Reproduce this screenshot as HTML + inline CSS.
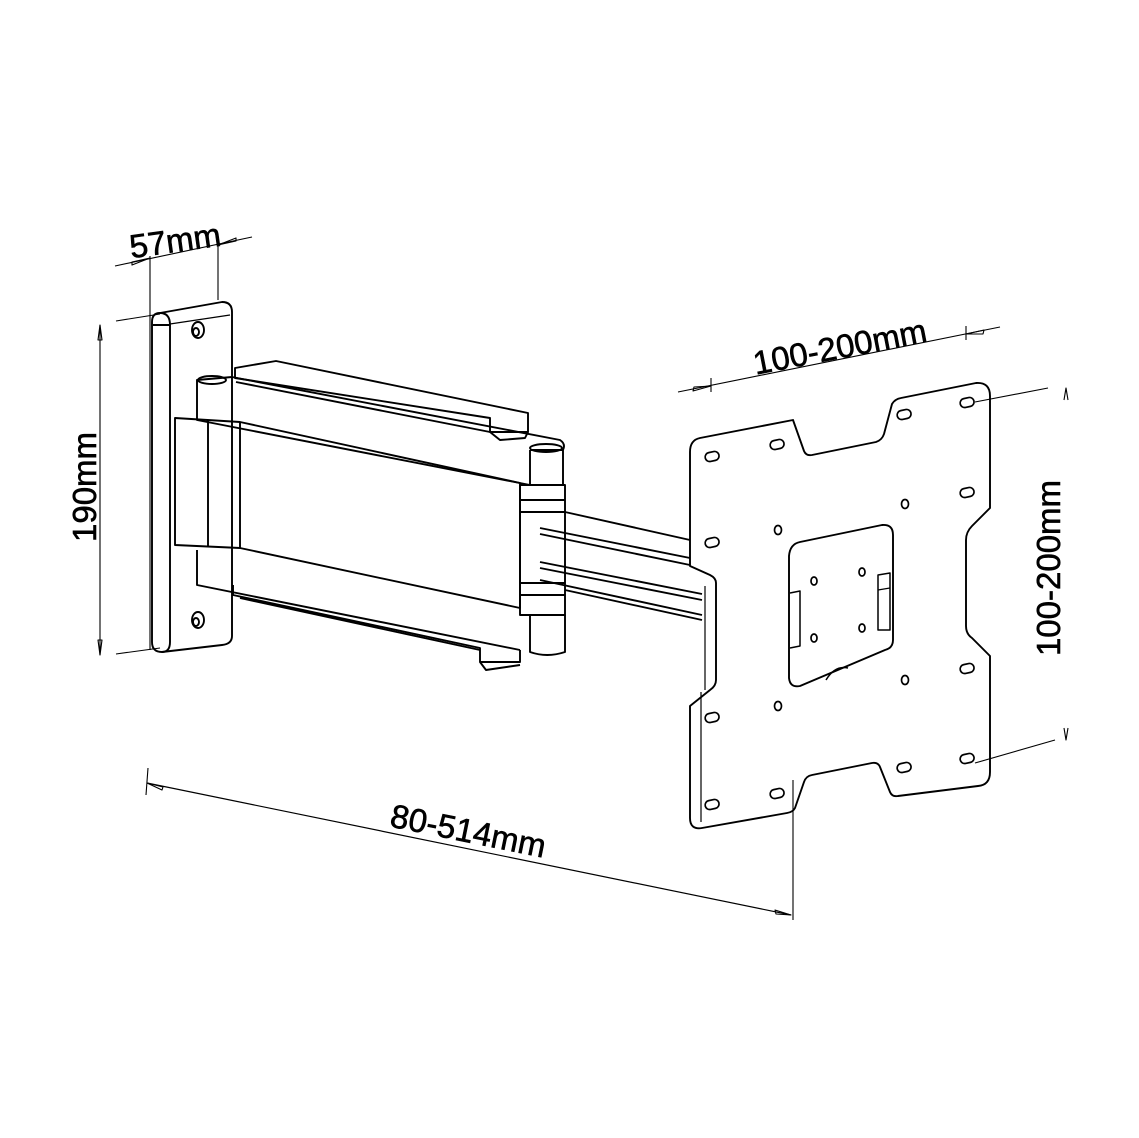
<!DOCTYPE html>
<html><head><meta charset="utf-8"><style>
html,body{margin:0;padding:0;background:#fff;}
svg{display:block;}
text{font-family:"Liberation Sans",sans-serif;fill:#000;stroke:#000;stroke-width:0.6;}
</style></head><body>
<svg width="1139" height="1138" viewBox="0 0 1139 1138" xmlns="http://www.w3.org/2000/svg">
<g fill="none" stroke="#000" stroke-width="1.9" stroke-linejoin="round">
<!-- 57mm dimension -->
<line x1="115" y1="266" x2="252" y2="237" stroke-width="1.1"/>
<line x1="150" y1="256" x2="150" y2="650" stroke-width="1.1"/>
<line x1="218" y1="243" x2="218" y2="300" stroke-width="1.1"/>
<path d="M132 262 L150 258 L132 265Z" stroke-width="1.1"/>
<path d="M236 241 L218 245 L236 238Z" stroke-width="1.1"/>
<!-- 190mm -->
<line x1="100" y1="325" x2="100" y2="655" stroke-width="1.1"/>
<line x1="116" y1="321" x2="160" y2="314" stroke-width="1.1"/>
<line x1="116" y1="654" x2="160" y2="648" stroke-width="1.1"/>
<path d="M98 340 L100 325 L102 340Z" stroke-width="1.1"/>
<path d="M98 640 L100 655 L102 640Z" stroke-width="1.1"/>
<!-- wall plate -->
<path d="M160 313 L222 302 Q232 302 232 312 L232 636 Q232 644 222 645 L162 652 Q152 652 152 642 L152 322 Q152 313 160 313Z"/>
<path d="M160 313 Q170 313 170 325 L170 642 Q170 652 162 652"/>
<path d="M153 325 L170 325"/>
<path d="M170 324 L230 315" stroke-width="1.2"/>
<ellipse cx="198" cy="330" rx="6" ry="8"/><ellipse cx="196" cy="332" rx="3" ry="4"/>
<ellipse cx="198" cy="620" rx="6" ry="8"/><ellipse cx="196" cy="622" rx="3" ry="4"/>
<!-- upper rail -->
<path d="M235 368 L276 361 L528 413 L528 432 L490 432 L490 418 L235 378Z"/>
<path d="M236 382 L490 432"/>
<path d="M490 432 L500 440 L525 438 L528 432"/>
<!-- upper arm block -->
<path d="M197 380 L232 377 L560 440 Q566 444 563 450 L563 485 L530 485 L197 420Z"/>
<path d="M530 450 L530 485"/><path d="M530 450 L563 450"/>
<ellipse cx="546" cy="448" rx="16" ry="4"/>
<ellipse cx="212" cy="380" rx="14" ry="4"/>
<!-- main arm panel -->
<path d="M175 418 L240 422 L520 483 L520 608 L240 548 L175 545Z"/>
<path d="M208 420 L208 547"/>
<path d="M240 422 L240 548"/>
<!-- lower arm -->
<path d="M197 550 L197 585 L520 650"/>
<path d="M233 585 L233 595 L480 648 L480 662 L520 662 L520 650"/>
<path d="M240 598 L480 650"/>
<path d="M480 662 L486 670 L520 665"/>
<!-- right hinge -->
<path d="M520 485 L565 485 L565 615 L520 615Z"/>
<path d="M520 500 L565 500"/><path d="M520 512 L565 512"/>
<path d="M520 583 L565 583"/><path d="M520 595 L565 595"/>
<path d="M530 615 L530 652 Q547 658 565 652 L565 615"/>
<!-- second arm -->
<path d="M565 512 L690 540"/><path d="M540 528 L690 558"/>
<path d="M540 534 L690 565"/>
<path d="M540 562 L702 594"/><path d="M540 568 L702 600"/>
<path d="M540 580 L702 615"/><path d="M565 590 L702 620"/>
<!-- VESA plate -->
<path d="M700 438 L793 420 L804 451 Q806 456 812 455 L876 442 Q882 440 884 434 L892 404 Q895 399 901 398 L976 383 Q990 382 990 396 L990 508 L972 526 Q966 532 966 540 L966 626 Q966 634 972 638 L990 656 L990 772 Q990 785 978 786 L898 796 Q892 797 890 792 L880 767 Q878 762 872 763 L812 775 Q806 776 804 782 L795 808 Q793 812 787 813 L702 828 Q690 830 690 818 L690 706 L710 690 Q716 686 716 680 L716 583 Q716 578 710 575 L690 566 L690 452 Q690 440 700 438Z"/>
<path d="M701 692 L701 822" stroke-width="1.2"/>
<path d="M705 586 L705 690" stroke-width="1.2"/>
<!-- slots -->
<g stroke-width="1.7">
<rect x="705" y="452" width="14" height="9" rx="4.5" transform="rotate(-12 712 456)"/>
<rect x="770" y="440" width="14" height="9" rx="4.5" transform="rotate(-12 777 444)"/>
<rect x="897" y="410" width="14" height="9" rx="4.5" transform="rotate(-12 904 414)"/>
<rect x="960" y="398" width="14" height="9" rx="4.5" transform="rotate(-12 967 402)"/>
<rect x="705" y="538" width="14" height="9" rx="4.5" transform="rotate(-12 712 542)"/>
<rect x="960" y="488" width="14" height="9" rx="4.5" transform="rotate(-12 967 492)"/>
<rect x="705" y="713" width="14" height="9" rx="4.5" transform="rotate(-12 712 717)"/>
<rect x="960" y="664" width="14" height="9" rx="4.5" transform="rotate(-12 967 668)"/>
<rect x="705" y="800" width="14" height="9" rx="4.5" transform="rotate(-12 712 804)"/>
<rect x="770" y="789" width="14" height="9" rx="4.5" transform="rotate(-12 777 793)"/>
<rect x="897" y="763" width="14" height="9" rx="4.5" transform="rotate(-12 904 767)"/>
<rect x="960" y="754" width="14" height="9" rx="4.5" transform="rotate(-12 967 758)"/>
</g>
<g stroke-width="1.7">
<ellipse cx="778" cy="530" rx="3.5" ry="4.5"/><ellipse cx="905" cy="504" rx="3.5" ry="4.5"/>
<ellipse cx="778" cy="706" rx="3.5" ry="4.5"/><ellipse cx="905" cy="680" rx="3.5" ry="4.5"/>
<ellipse cx="814" cy="581" rx="3" ry="4"/><ellipse cx="862" cy="572" rx="3" ry="4"/>
<ellipse cx="814" cy="638" rx="3" ry="4"/><ellipse cx="862" cy="628" rx="3" ry="4"/>
</g>
<!-- inner plate -->
<path d="M800 542 L882 525 Q893 524 893 535 L893 640 Q893 648 885 650 L800 686 Q790 688 789 678 L789 556 Q790 544 800 542Z"/>
<path d="M790 593 L800 591 L800 646 L790 648" stroke-width="1.5"/>
<path d="M878 575 L890 573 L890 630 L878 630Z" stroke-width="1.5"/>
<path d="M878 590 L890 588" stroke-width="1.2"/>
<path d="M826 680 Q835 665 848 668" stroke-width="1.5"/>
<!-- 100-200 top -->
<line x1="678" y1="392" x2="1000" y2="327" stroke-width="1.1"/>
<line x1="711" y1="378" x2="711" y2="392" stroke-width="1.1"/>
<line x1="966" y1="326" x2="966" y2="340" stroke-width="1.1"/>
<path d="M693 391 L711 386 L694 387Z" stroke-width="1.1"/>
<path d="M984 330 L966 334 L983 334Z" stroke-width="1.1"/>
<!-- 100-200 right -->
<line x1="975" y1="402" x2="1048" y2="388" stroke-width="1.1"/>
<line x1="975" y1="763" x2="1055" y2="740" stroke-width="1.1"/>
<path d="M1064 400 L1066 388 L1068 400" stroke-width="1.1"/>
<path d="M1064 728 L1066 740 L1068 728" stroke-width="1.1"/>
<!-- 80-514 -->
<line x1="147" y1="783" x2="791" y2="915" stroke-width="1.2"/>
<line x1="148" y1="768" x2="146" y2="795" stroke-width="1.1"/>
<line x1="793" y1="780" x2="793" y2="920" stroke-width="1.1"/>
<path d="M163 787 L147 783 L162 790Z" stroke-width="1.1"/>
<path d="M775 910 L791 915 L776 914Z" stroke-width="1.1"/>
</g>
<text x="175" y="252" font-size="33" text-anchor="middle" transform="rotate(-8 175 240)">57mm</text>
<text x="0" y="0" font-size="33" text-anchor="middle" transform="translate(96 487) rotate(-90)">190mm</text>
<text x="0" y="0" font-size="33" text-anchor="middle" transform="translate(842 358) rotate(-11)">100-200mm</text>
<text x="0" y="0" font-size="33" text-anchor="middle" transform="translate(1060 568) rotate(-90)">100-200mm</text>
<text x="0" y="0" font-size="33" text-anchor="middle" transform="translate(466 842) rotate(11.5)">80-514mm</text>
</svg>
</body></html>
